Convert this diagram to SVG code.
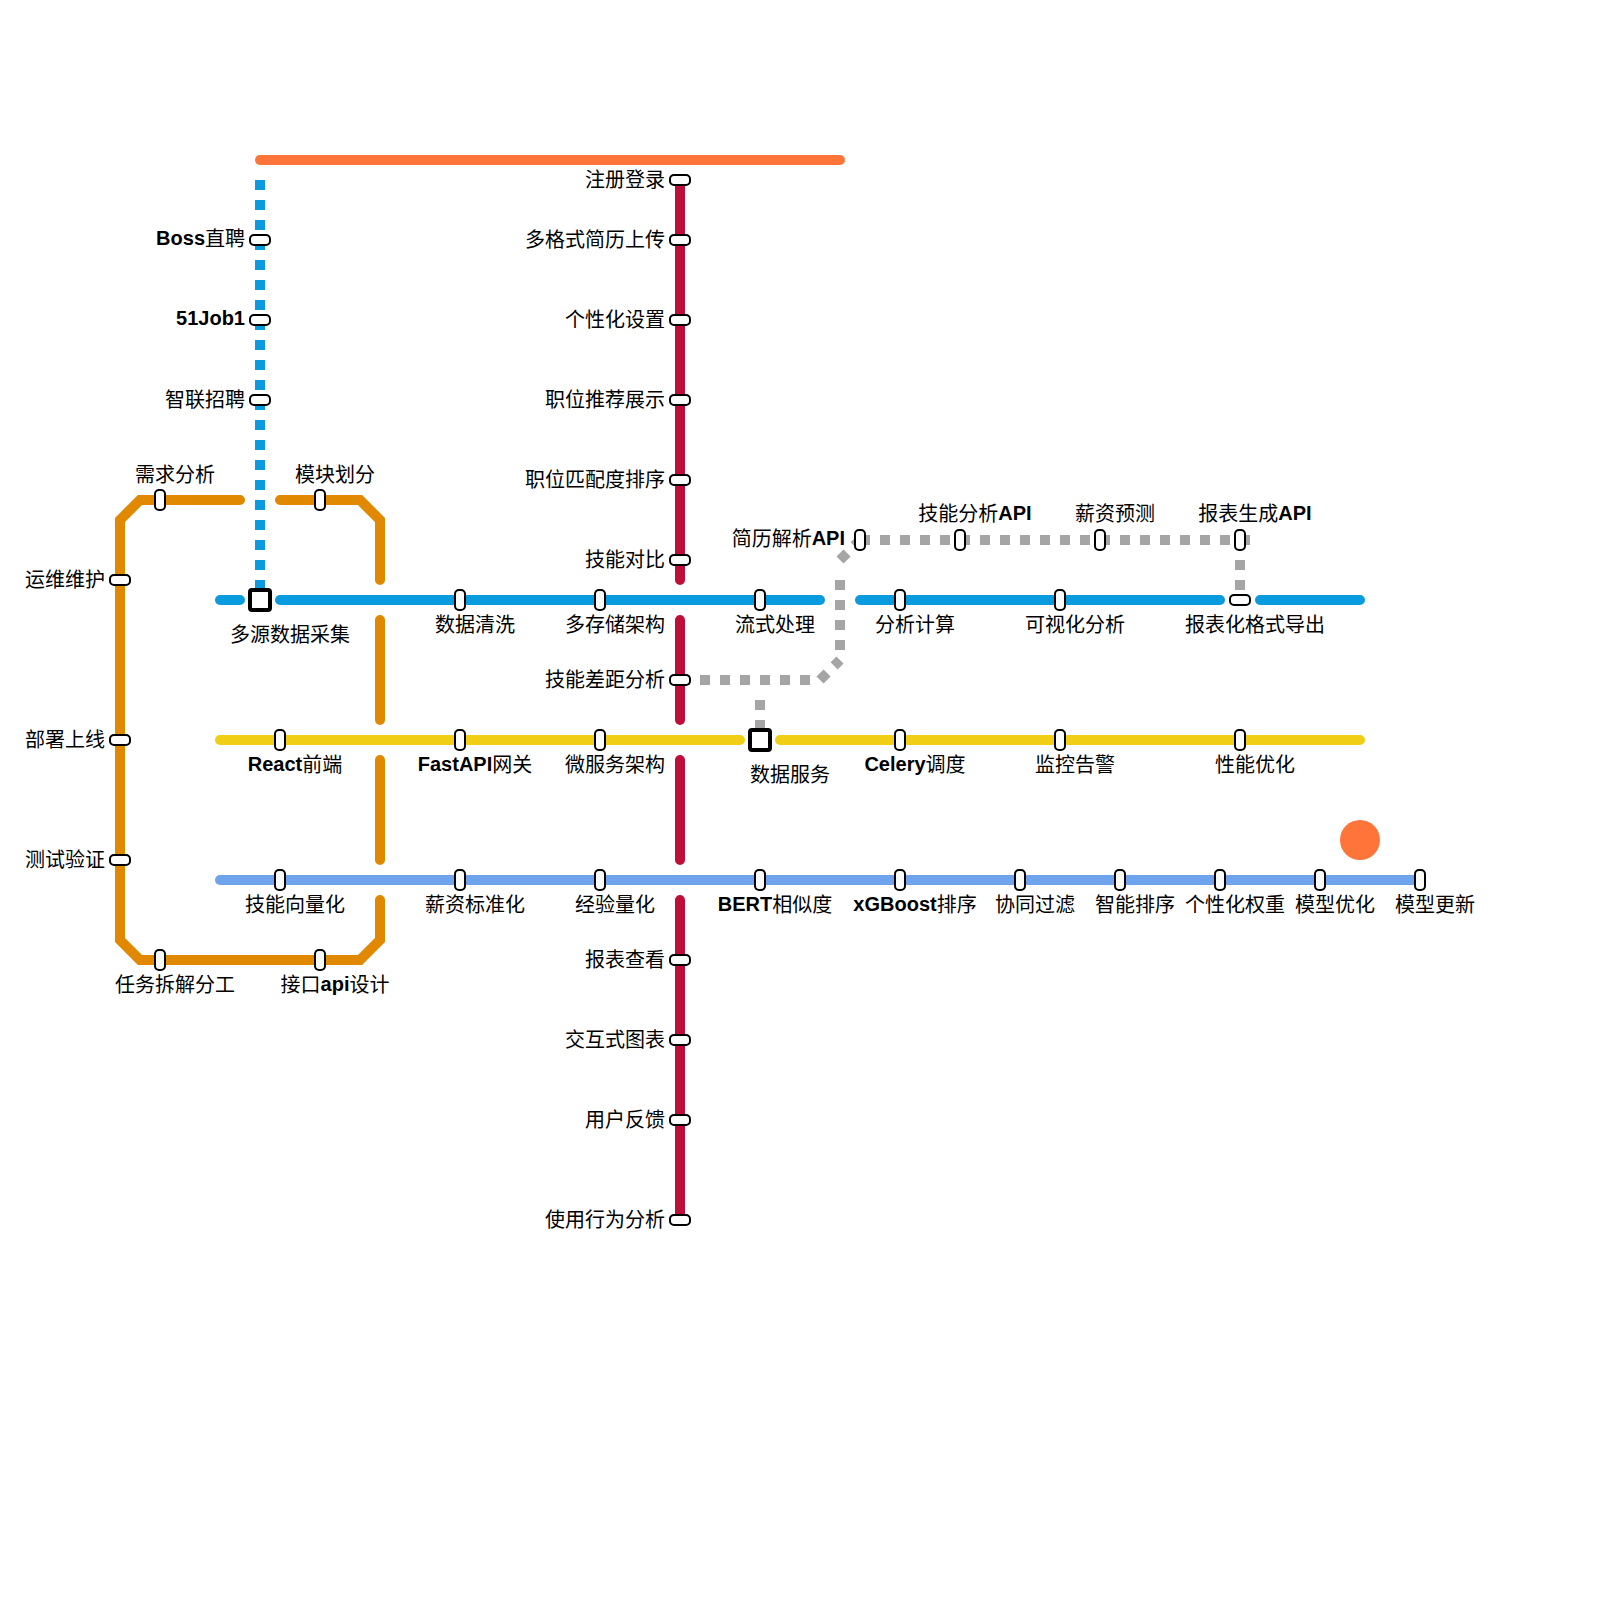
<svg xmlns="http://www.w3.org/2000/svg" width="1600" height="1600" viewBox="0 0 1600 1600">
<style>
text{font-family:"Liberation Sans","Noto Sans CJK SC",sans-serif;font-size:20px;fill:#000}
.b{font-weight:bold;baseline-shift:1.5px}
.m{text-anchor:middle}
.e{text-anchor:end}
.l{fill:none;stroke-width:10;stroke-linecap:round;stroke-linejoin:miter}
.d{fill:none;stroke-width:10;stroke-dasharray:10 10}
.p{fill:#fff;stroke:#000;stroke-width:2}
.i{fill:#fff;stroke:#000;stroke-width:4}
</style>
<defs>
<rect id="v" class="p" x="-5" y="-10" width="10" height="20" rx="4"/>
<rect id="h" class="p" x="-10" y="-5" width="20" height="10" rx="4"/>
<rect id="x" class="i" x="-10" y="-10" width="20" height="20" rx="2"/>
</defs>
<g id="connectors">
<path class="l" stroke="#ff7539" d="M260 160H840"/>
<path class="d" stroke="#0a9ade" d="M260 180V600"/>
<path class="l" stroke="#0a9ade" d="M220 600H240M280 600H820M860 600H1220M1260 600H1360"/>
<path class="l" stroke="#f0ce15" d="M220 740H740M780 740H1360"/>
<path class="l" stroke="#bd0f3a" d="M680 180V580M680 620V720M680 760V860M680 900V1220"/>
<path class="l" stroke="#e08800" d="M240 500H140L120 520V940L140 960H360L380 940V900M380 860V760M380 720V620M380 580V520L360 500H280"/>
<path class="l" stroke="#6fa4ec" d="M220 880H1420"/>
<path class="d" stroke="#a5a5a5" d="M680 680H820L840 660"/>
<path class="d" stroke="#a5a5a5" stroke-dashoffset="10" d="M840 660V570"/>
<path class="d" stroke="#a5a5a5" d="M840 560L860 540"/>
<path class="d" stroke="#a5a5a5" d="M860 540H1250"/>
<path class="d" stroke="#a5a5a5" d="M1240 560V600"/>
<path class="d" stroke="#a5a5a5" d="M760 700V740"/>
</g>
<circle id="marker" cx="1360" cy="840" r="20" fill="#ff7539"/>
<g id="n1"><use href="#h" x="680" y="180"/><text class="e" x="665" y="187">注册登录</text></g>
<g id="n2"><use href="#h" x="680" y="240"/><text class="e" x="665" y="247">多格式简历上传</text></g>
<g id="n3"><use href="#h" x="680" y="320"/><text class="e" x="665" y="327">个性化设置</text></g>
<g id="n4"><use href="#h" x="680" y="400"/><text class="e" x="665" y="407">职位推荐展示</text></g>
<g id="n5"><use href="#h" x="680" y="480"/><text class="e" x="665" y="487">职位匹配度排序</text></g>
<g id="n6"><use href="#h" x="680" y="560"/><text class="e" x="665" y="567">技能对比</text></g>
<g id="n7"><use href="#h" x="680" y="680"/><text class="e" x="665" y="687">技能差距分析</text></g>
<g id="n8"><use href="#h" x="680" y="960"/><text class="e" x="665" y="967">报表查看</text></g>
<g id="n9"><use href="#h" x="680" y="1040"/><text class="e" x="665" y="1047">交互式图表</text></g>
<g id="n10"><use href="#h" x="680" y="1120"/><text class="e" x="665" y="1127">用户反馈</text></g>
<g id="n11"><use href="#h" x="680" y="1220"/><text class="e" x="665" y="1227">使用行为分析</text></g>
<g id="n12"><use href="#h" x="260" y="240"/><text class="e" x="245" y="246"><tspan class="b">Boss</tspan>直聘</text></g>
<g id="n13"><use href="#h" x="260" y="320"/><text class="e" x="245" y="326"><tspan class="b">51Job1</tspan></text></g>
<g id="n14"><use href="#h" x="260" y="400"/><text class="e" x="245" y="407">智联招聘</text></g>
<g id="n15"><use href="#x" x="260" y="600"/><text class="m" x="290" y="642">多源数据采集</text></g>
<g id="n16"><use href="#v" x="460" y="600"/><text class="m" x="475" y="632">数据清洗</text></g>
<g id="n17"><use href="#v" x="600" y="600"/><text class="m" x="615" y="632">多存储架构</text></g>
<g id="n18"><use href="#v" x="760" y="600"/><text class="m" x="775" y="632">流式处理</text></g>
<g id="n19"><use href="#v" x="900" y="600"/><text class="m" x="915" y="632">分析计算</text></g>
<g id="n20"><use href="#v" x="1060" y="600"/><text class="m" x="1075" y="632">可视化分析</text></g>
<g id="n21"><use href="#h" x="1240" y="600"/><text class="m" x="1255" y="632">报表化格式导出</text></g>
<g id="n22"><use href="#v" x="280" y="740"/><text class="m" x="295" y="772"><tspan class="b">React</tspan>前端</text></g>
<g id="n23"><use href="#v" x="460" y="740"/><text class="m" x="475" y="772"><tspan class="b">FastAPI</tspan>网关</text></g>
<g id="n24"><use href="#v" x="600" y="740"/><text class="m" x="615" y="772">微服务架构</text></g>
<g id="n25"><use href="#x" x="760" y="740"/><text class="m" x="790" y="782">数据服务</text></g>
<g id="n26"><use href="#v" x="900" y="740"/><text class="m" x="915" y="772"><tspan class="b">Celery</tspan>调度</text></g>
<g id="n27"><use href="#v" x="1060" y="740"/><text class="m" x="1075" y="772">监控告警</text></g>
<g id="n28"><use href="#v" x="1240" y="740"/><text class="m" x="1255" y="772">性能优化</text></g>
<g id="n29"><use href="#v" x="280" y="880"/><text class="m" x="295" y="912">技能向量化</text></g>
<g id="n30"><use href="#v" x="460" y="880"/><text class="m" x="475" y="912">薪资标准化</text></g>
<g id="n31"><use href="#v" x="600" y="880"/><text class="m" x="615" y="912">经验量化</text></g>
<g id="n32"><use href="#v" x="760" y="880"/><text class="m" x="775" y="912"><tspan class="b">BERT</tspan>相似度</text></g>
<g id="n33"><use href="#v" x="900" y="880"/><text class="m" x="915" y="912"><tspan class="b">xGBoost</tspan>排序</text></g>
<g id="n34"><use href="#v" x="1020" y="880"/><text class="m" x="1035" y="912">协同过滤</text></g>
<g id="n35"><use href="#v" x="1120" y="880"/><text class="m" x="1135" y="912">智能排序</text></g>
<g id="n36"><use href="#v" x="1220" y="880"/><text class="m" x="1235" y="912">个性化权重</text></g>
<g id="n37"><use href="#v" x="1320" y="880"/><text class="m" x="1335" y="912">模型优化</text></g>
<g id="n38"><use href="#v" x="1420" y="880"/><text class="m" x="1435" y="912">模型更新</text></g>
<g id="n39"><use href="#v" x="860" y="540"/><text class="e" x="845" y="546">简历解析<tspan class="b">API</tspan></text></g>
<g id="n40"><use href="#v" x="960" y="540"/><text class="m" x="975" y="521">技能分析<tspan class="b">API</tspan></text></g>
<g id="n41"><use href="#v" x="1100" y="540"/><text class="m" x="1115" y="521">薪资预测</text></g>
<g id="n42"><use href="#v" x="1240" y="540"/><text class="m" x="1255" y="521">报表生成<tspan class="b">API</tspan></text></g>
<g id="n43"><use href="#v" x="160" y="500"/><text class="m" x="175" y="482">需求分析</text></g>
<g id="n44"><use href="#v" x="320" y="500"/><text class="m" x="335" y="482">模块划分</text></g>
<g id="n45"><use href="#h" x="120" y="580"/><text class="e" x="105" y="587">运维维护</text></g>
<g id="n46"><use href="#h" x="120" y="740"/><text class="e" x="105" y="747">部署上线</text></g>
<g id="n47"><use href="#h" x="120" y="860"/><text class="e" x="105" y="867">测试验证</text></g>
<g id="n48"><use href="#v" x="160" y="960"/><text class="m" x="175" y="992">任务拆解分工</text></g>
<g id="n49"><use href="#v" x="320" y="960"/><text class="m" x="335" y="992">接口<tspan class="b">api</tspan>设计</text></g>
</svg>
